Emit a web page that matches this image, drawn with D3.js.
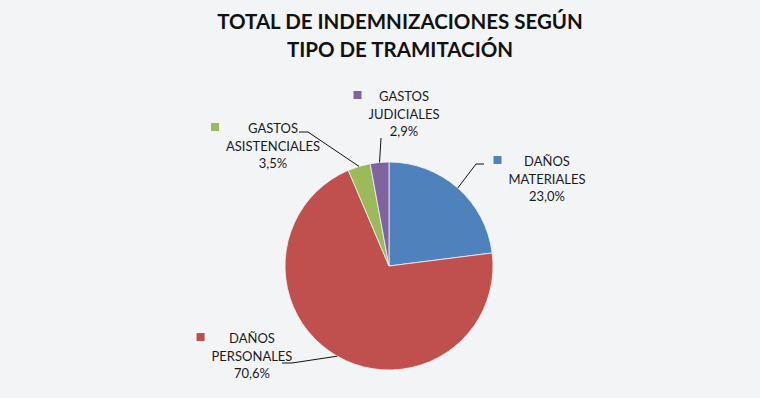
<!DOCTYPE html>
<html>
<head>
<meta charset="utf-8">
<script src="https://cdn.jsdelivr.net/npm/d3@7/dist/d3.min.js"></script>
<style>
  html, body { margin: 0; padding: 0; background: #f3f4f6; }
  svg { display: block; font-family: Lato, "Open Sans", sans-serif; }
</style>
</head>
<body>
<div id="chart"></div>
<script>
// chart data
const categories = ['DAÑOS MATERIALES', 'DAÑOS PERSONALES', 'GASTOS ASISTENCIALES', 'GASTOS JUDICIALES'];
const values = [23.0, 70.6, 3.5, 2.9];
const colors = ['#4f81bd', '#c0504d', '#9bbb59', '#8064a2'];
const titleLines = ['TOTAL DE INDEMNIZACIONES SEGÚN', 'TIPO DE TRAMITACIÓN'];

// label layout (Excel "best fit" placement, copied by eye)
const labelCenter = [[547, 166], [252, 343], [273, 133], [404, 101]];
const leaderKnee = [[[476, 164], [484, 164]], [[292, 363], [282, 363]], [[308, 132], [299, 132]], [[381, 138]]];

const W = 760, H = 398;
const cx = 389, cy = 266, R = 104;

const svg = d3.select('#chart').append('svg').attr('width', W).attr('height', H);
svg.append('rect').attr('width', W).attr('height', H).attr('fill', '#f3f4f6');

// Title
svg.append('g').selectAll('text').data(titleLines).join('text')
  .attr('x', 400)
  .attr('y', (d, i) => 29 + i * 28)
  .attr('text-anchor', 'middle')
  .attr('font-size', '20.5px')
  .attr('font-weight', 700)
  .attr('fill', '#111')
  .text(d => d);

const fmt = d3.formatLocale({ decimal: ',', thousands: '.', grouping: [3], currency: ['', '€'] }).format('.1f');

const pie = d3.pie().sort(null).startAngle(0).endAngle(2 * Math.PI);
const arcs = pie(values);
const arc = d3.arc().innerRadius(0).outerRadius(R);
const edge = d3.arc().innerRadius(R).outerRadius(R);

const g = svg.append('g').attr('transform', `translate(${cx},${cy})`);

g.selectAll('path').data(arcs).join('path')
  .attr('d', arc)
  .attr('fill', (d, i) => colors[i])
  .attr('stroke', '#f3f4f6')
  .attr('stroke-width', 0.8);

// Leader lines: from slice edge at mid-angle to the label
const line = d3.line();
svg.append('g').selectAll('path').data(arcs).join('path')
  .attr('d', (d, i) => {
    const [ex, ey] = edge.centroid(d);
    return line([[cx + ex, cy + ey], ...leaderKnee[i]]);
  })
  .attr('fill', 'none')
  .attr('stroke', '#111')
  .attr('stroke-width', 1);

// Data labels (category split on the space, then percentage)
const labels = svg.append('g').selectAll('g').data(arcs).join('g');

labels.each(function (d, i) {
  const lg = d3.select(this);
  const lines = categories[i].split(' ').concat([fmt(values[i]) + '%']);
  const [x, y] = labelCenter[i];
  const texts = lg.selectAll('text').data(lines).join('text')
    .attr('x', x)
    .attr('y', (t, k) => y + k * 17.5)
    .attr('text-anchor', 'middle')
    .attr('font-size', '13px')
    .attr('fill', '#1a1a1a')
    .text(t => t);
  let maxW = 0;
  texts.each(function () { maxW = Math.max(maxW, this.getComputedTextLength()); });
  lg.append('rect')
    .attr('x', x - maxW / 2 - 15)
    .attr('y', y - 10)
    .attr('width', 8)
    .attr('height', 8)
    .attr('fill', colors[i]);
});
</script>
</body>
</html>
